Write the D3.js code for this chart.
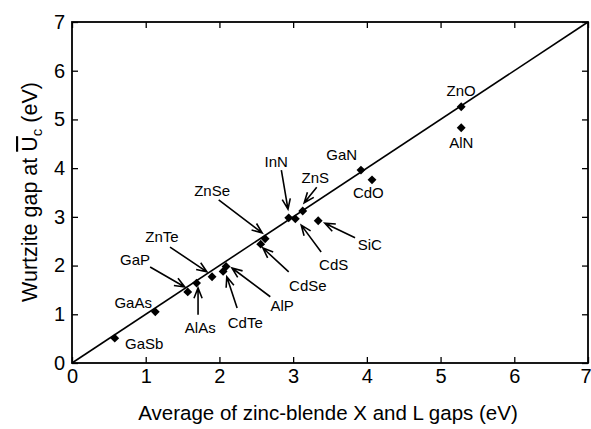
<!DOCTYPE html>
<html>
<head>
<meta charset="utf-8">
<script src="https://cdn.jsdelivr.net/npm/d3@7"></script>
<style>
  body { margin: 0; background: #fff; }
  text { font-family: "Liberation Sans", Arial, sans-serif; fill: #000; }
</style>
</head>
<body>
<script>
// compounds and their gaps (eV)
var compounds = ["GaSb","GaAs","GaP","AlAs","ZnTe","CdTe","AlP","ZnSe","CdSe","InN","CdS","ZnS","SiC","GaN","CdO","ZnO","AlN"];
var zbGap     = [0.58, 1.13, 1.57, 1.69, 1.90, 2.05, 2.09, 2.62, 2.56, 2.94, 3.03, 3.13, 3.34, 3.92, 4.07, 5.28, 5.28];
var wzGap     = [0.51, 1.05, 1.46, 1.64, 1.77, 1.88, 1.98, 2.55, 2.44, 2.98, 2.96, 3.12, 2.92, 3.96, 3.76, 5.26, 4.83];
var axisTicks = [0, 1, 2, 3, 4, 5, 6, 7];

// label placement in data units, optional arrow [x1,y1,x2,y2]
var labelPos = {
    GaSb: [0.98, 0.39], GaAs: [0.83, 1.25], GaP: [0.855, 2.13], AlAs: [1.74, 0.72],
    ZnTe: [1.22, 2.59], CdTe: [2.35, 0.82], AlP: [2.85, 1.17], ZnSe: [1.90, 3.53],
    CdSe: [3.20, 1.58], InN: [2.77, 4.13], CdS: [3.55, 2.01], ZnS: [3.30, 3.80],
    SiC: [4.04, 2.44], GaN: [3.66, 4.27], CdO: [4.02, 3.49], ZnO: [5.28, 5.59], AlN: [5.28, 4.52]
};
var arrows = {
    GaP:  [1.06, 1.97, 1.53, 1.56],
    AlAs: [1.71, 0.99, 1.71, 1.54],
    ZnTe: [1.33, 2.38, 1.83, 1.87],
    CdTe: [2.24, 1.13, 2.10, 1.77],
    AlP:  [2.69, 1.36, 2.17, 1.95],
    ZnSe: [1.99, 3.35, 2.58, 2.67],
    CdSe: [2.94, 1.87, 2.59, 2.36],
    InN:  [2.84, 3.96, 2.93, 3.16],
    CdS:  [3.38, 2.28, 3.11, 2.83],
    ZnS:  [3.32, 3.61, 3.15, 3.29],
    SiC:  [3.84, 2.57, 3.43, 2.87]
};

var width = 591, height = 429;
var plotLeft = 72, plotRight = 588, plotTop = 22, plotBottom = 363;

var x = d3.scaleLinear().domain([0, 7]).range([plotLeft, plotRight]);
var y = d3.scaleLinear().domain([0, 7]).range([plotBottom, plotTop]);

var svg = d3.select("body").append("svg")
    .attr("width", width)
    .attr("height", height);

// axes, ticks pointing inward
var tickLen = 6;
var xAxis = svg.append("g").attr("transform", "translate(0," + plotBottom + ")")
    .call(d3.axisBottom(x).tickValues(axisTicks).tickSizeInner(-tickLen).tickSizeOuter(0).tickPadding(6).tickFormat(d3.format("d")));
svg.append("g").attr("transform", "translate(0," + plotTop + ")")
    .call(d3.axisTop(x).tickValues(axisTicks).tickSizeInner(-tickLen).tickSizeOuter(0).tickFormat(""));
svg.append("g").attr("transform", "translate(" + plotLeft + ",0)")
    .call(d3.axisLeft(y).tickValues(axisTicks).tickSizeInner(-tickLen).tickSizeOuter(0).tickPadding(7).tickFormat(d3.format("d")));
svg.append("g").attr("transform", "translate(" + plotRight + ",0)")
    .call(d3.axisRight(y).tickValues(axisTicks).tickSizeInner(-tickLen).tickSizeOuter(0).tickFormat(""));

svg.selectAll(".domain").remove();
svg.selectAll(".tick line").attr("stroke", "#000").attr("stroke-width", 1.3);
svg.selectAll(".tick text").style("font-size", "20px").attr("fill", "#000");
// last x label sits against the page edge
xAxis.selectAll(".tick text").filter(function(d){ return d === 7; })
    .attr("text-anchor", "end").attr("x", 3);

svg.append("rect")
    .attr("x", plotLeft).attr("y", plotTop)
    .attr("width", plotRight - plotLeft).attr("height", plotBottom - plotTop)
    .attr("fill", "none").attr("stroke", "#000").attr("stroke-width", 1.8);

// y = x line
svg.append("line")
    .attr("x1", x(0)).attr("y1", y(0))
    .attr("x2", x(7)).attr("y2", y(7))
    .attr("stroke", "#000").attr("stroke-width", 1.6);

// points
var points = compounds.map(function(c, i){ return {name: c, xv: zbGap[i], yv: wzGap[i]}; });
var diamond = d3.symbol().type(d3.symbolDiamond2).size(50);
svg.selectAll(".pt").data(points).enter().append("path")
    .attr("class", "pt")
    .attr("d", diamond)
    .attr("transform", function(d){ return "translate(" + x(d.xv) + "," + y(d.yv) + ")"; })
    .attr("fill", "#000");

// arrows with open heads
function arrowPath(a){
    var x1 = x(a[0]), y1 = y(a[1]), x2 = x(a[2]), y2 = y(a[3]);
    var ang = Math.atan2(y2 - y1, x2 - x1);
    var hl = 11, spread = 0.38;
    var h1 = [x2 - hl * Math.cos(ang - spread), y2 - hl * Math.sin(ang - spread)];
    var h2 = [x2 - hl * Math.cos(ang + spread), y2 - hl * Math.sin(ang + spread)];
    return "M" + [x1, y1] + "L" + [x2, y2] + "M" + h1 + "L" + [x2, y2] + "L" + h2;
}
svg.selectAll(".arrow").data(Object.keys(arrows)).enter().append("path")
    .attr("class", "arrow")
    .attr("d", function(k){ return arrowPath(arrows[k]); })
    .attr("fill", "none").attr("stroke", "#000").attr("stroke-width", 1.6);

// compound labels
svg.selectAll(".lbl").data(compounds).enter().append("text")
    .attr("class", "lbl")
    .attr("x", function(k){ return x(labelPos[k][0]); })
    .attr("y", function(k){ return y(labelPos[k][1]); })
    .attr("text-anchor", "middle")
    .attr("dy", "0.36em")
    .style("font-size", "15px")
    .text(function(k){ return k; });

// axis titles
svg.append("text")
    .attr("x", 328).attr("y", 420)
    .attr("text-anchor", "middle")
    .style("font-size", "20.5px")
    .text("Average of zinc-blende X and L gaps (eV)");

var yt = svg.append("text")
    .attr("transform", "translate(37,192) rotate(-90)")
    .attr("text-anchor", "middle")
    .style("font-size", "21.5px");
yt.append("tspan").text("Wurtzite gap at ");
yt.append("tspan").style("text-decoration", "overline").text("U");
yt.append("tspan").attr("dy", 5).style("font-size", "15px").text("c");
yt.append("tspan").attr("dy", -5).text(" (eV)");
</script>
</body>
</html>
